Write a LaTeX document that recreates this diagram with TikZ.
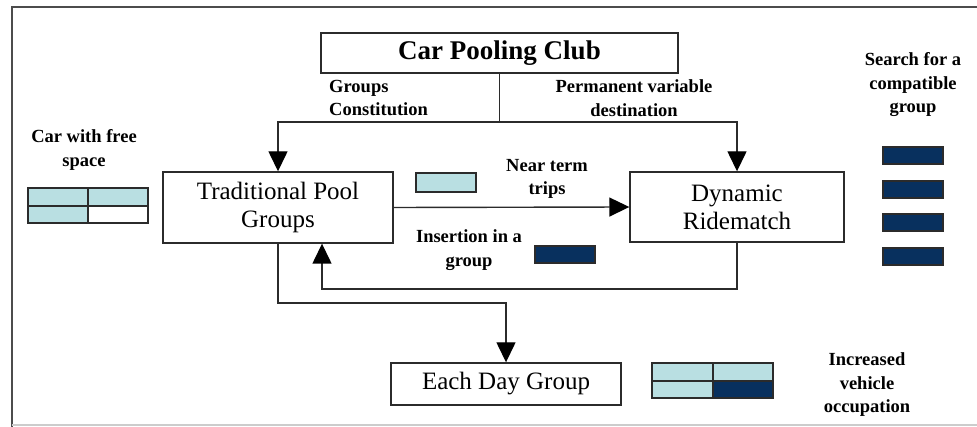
\documentclass[tikz,border=0pt]{standalone}
\usepackage{fontspec}
\setmainfont{Liberation Serif}
\usetikzlibrary{arrows.meta}
\definecolor{lightcell}{HTML}{B9DFE2}
\definecolor{darkcell}{HTML}{08305E}
\definecolor{edge}{HTML}{2B2B2B}
\begin{document}
\begin{tikzpicture}[x=1pt,y=-1pt,
  box/.style={draw=edge, line width=1.4pt, inner sep=0pt, align=center,
    font=\fontsize{25}{28}\selectfont},
  label/.style={inner sep=0pt, font=\fontsize{18.5}{23.5}\selectfont\bfseries},
  link/.style={draw=edge, line width=1.4pt},
  tri/.tip={Triangle[width=19pt,length=20pt,color=black]},
  cell/.style={draw=edge, line width=1.1pt}]
\useasboundingbox (0,0) rectangle (977,427);
% frame
\draw[draw=black!70, line width=2pt] (977,7) -- (12,7) -- (12,427);
\draw[draw=black!20, line width=1.5pt] (12,425) -- (977,425);

% main boxes
\node[box, minimum width=357pt, minimum height=40pt,
      font=\fontsize{27}{30}\selectfont\bfseries] (club) at (499.5,53) {Car Pooling Club};
\node[box, minimum width=230pt, minimum height=71pt] (trad) at (278,207.5) {Traditional Pool\\Groups};
\node[box, minimum width=214pt, minimum height=70pt] (dyn) at (737,207) {Dynamic\\Ridematch};
\node[box, minimum width=230pt, minimum height=42pt] (each) at (506,384) {Each Day Group};

% connectors
\coordinate (split) at (club.south |- 0,122);
\draw[link] (club.south) -- (split);
\draw[link, -tri] (split) -| (trad.north);
\draw[link, -tri] (split) -| (dyn.north);
\draw[link, -tri] (trad.east) -- (dyn.west);
\coordinate (back) at (322,289);
\draw[link, -tri] (dyn.south) |- (back) -- (back |- trad.south);
\coordinate (down) at (each.north |- 0,303);
\draw[link, -tri] (trad.south) |- (down) -- (each.north);

% labels
\node[label, anchor=west, align=left] (lgroups) at (329,98) {Groups\\Constitution};
\node[label, align=center] (lperm) at (634,98) {Permanent variable\\destination};
\node[label, align=center] (lsearch) at (913,85) {Search for a\\compatible\\group};
\node[label, align=center] (lfree) at (84,150) {Car with free\\space};
\node[label, align=center] (lnear) at (547,179) {Near term\\trips};
\node[label, align=center] (linsert) at (469,250) {Insertion in a\\group};
\node[label, align=center] (lincr) at (867,385) {Increased\\vehicle\\occupation};

% car with free space
\fill[lightcell] (28,188) rectangle (148,206);
\fill[lightcell] (28,206) rectangle (88,223);
\draw[cell] (28,188) rectangle (148,223) (28,206) -- (148,206) (88,188) -- (88,223);

% car with increased occupation
\fill[lightcell] (652,363) rectangle (773,381);
\fill[lightcell] (652,381) rectangle (713,398);
\fill[darkcell] (713,381) rectangle (773,398);
\draw[cell] (652,363) rectangle (773,398) (652,381) -- (773,381) (713,363) -- (713,398);

% single passengers
\draw[cell, fill=lightcell] (416,173) rectangle (476,192);
\draw[cell, fill=darkcell] (535,246) rectangle (595,263);
\foreach \y in {147,181,214,248}
  \draw[cell, fill=darkcell] (883,\y) rectangle (943,\y+17);
\end{tikzpicture}
\end{document}
